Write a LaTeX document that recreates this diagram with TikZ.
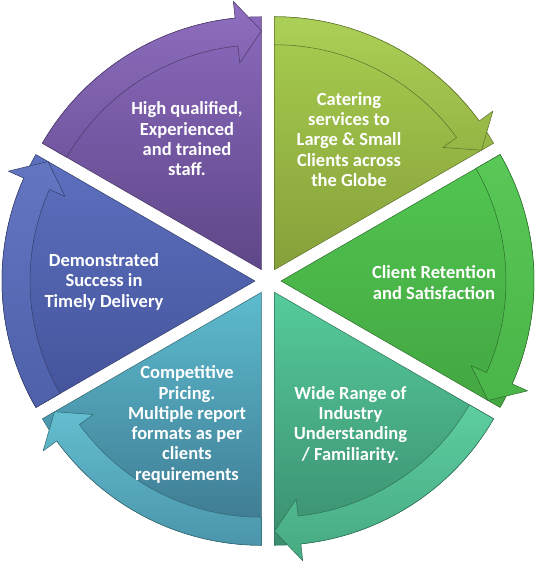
\documentclass[tikz,border=0pt]{standalone}
\usepackage{fontspec}
\setmainfont{Carlito}
\begin{document}
\begin{tikzpicture}[x=1pt,y=1pt, line join=round, line cap=round, font=\fontsize{18.5}{20.3}\selectfont\bfseries]
	\def\R{253} \def\Rin{225} \def\Rmid{239}
	\def\hin{208} \def\hout{270} \def\gap{13}
	\tikzset{
		sectxt/.style={text=white, align=center, inner sep=0pt},
		rim/.style={draw=ct!55!black, line width=0.5pt},
	}
	\useasboundingbox (-268,-287) rectangle (269,281);
	
	% start angle / top colour / bottom colour
	\foreach \a/\ctop/\cbot in {90/8A68BC/5E4788, 30/A8CE50/86A03A, -30/52C650/43A642,
		-90/56CB9B/3A8E6F, 210/5DBBCE/3C768E, 150/5D70BF/44539A}{
		\definecolor{ct}{HTML}{\ctop}
		\definecolor{cb}{HTML}{\cbot}
		\begin{scope}[shift={(\a+30:\gap)}]
			\draw[rim, top color=ct, bottom color=cb]
			(0,0) -- (\a:\R) arc[start angle=\a, end angle=\a+60, radius=\R] -- cycle;
			\draw[rim, top color=ct!96!white, bottom color=cb!55!ct]
			(\a+60:\R) arc[start angle=\a+60, end angle=\a+6, radius=\R]
			-- (\a+6:\hout) -- (\a:\Rmid) -- (\a+6:\hin) -- (\a+6:\Rin)
			arc[start angle=\a+6, end angle=\a+60, radius=\Rin] -- cycle;
		\end{scope}
	}
	
	\node[sectxt] (staff) at (-81,142) {High qualified,\\Experienced\\and trained\\staff.};
	\node[sectxt] (globe) at (81,141.5) {Catering\\services to\\Large \& Small\\Clients across\\the Globe};
	\node[sectxt] (retention) at (166,-1.6) {Client Retention\\and Satisfaction};
	\node[sectxt] (industry) at (82.5,-143.6) {Wide Range of\\Industry\\Understanding\\/ Familiarity.};
	\node[sectxt] (pricing) at (-81,-143.4) {Competitive\\Pricing.\\Multiple report\\formats as per\\clients\\requirements};
	\node[sectxt] (delivery) at (-164,-0.8) {Demonstrated\\Success in\\Timely Delivery};
\end{tikzpicture}
\end{document}
